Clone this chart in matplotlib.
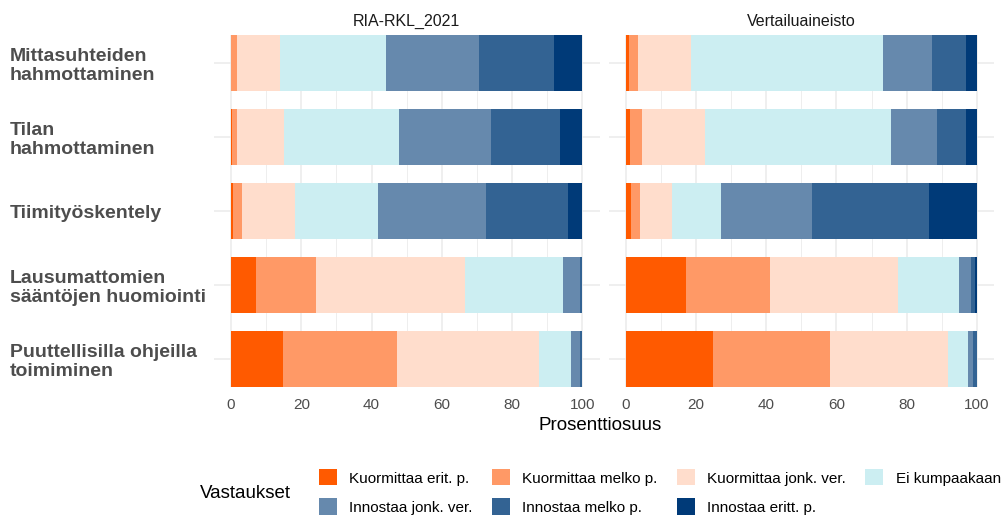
import numpy as np
import matplotlib.pyplot as plt
from matplotlib.patches import Patch

plt.rcParams['font.family'] = ['Liberation Sans', 'DejaVu Sans']

kysymykset = ['Mittasuhteiden\nhahmottaminen', 'Tilan\nhahmottaminen', 'Tiimityöskentely',
              'Lausumattomien\nsääntöjen huomiointi', 'Puuttellisilla ohjeilla\ntoimiminen']
vastaukset = ['Kuormittaa erit. p.', 'Kuormittaa melko p.', 'Kuormittaa jonk. ver.', 'Ei kumpaakaan',
              'Innostaa jonk. ver.', 'Innostaa melko p.', 'Innostaa eritt. p.']
varit = ['#FF5A00', '#FF9966', '#FFDDCC', '#CCEEF2', '#6689AD', '#336393', '#003A78']

ryhmat = ['RIA-RKL_2021', 'Vertailuaineisto']

# prosenttiosuudet, rivit = kysymykset, sarakkeet = vastaukset
ria = np.array([
    [0.0, 1.8, 12.2, 30.2, 26.5, 21.1, 8.2],
    [0.3, 1.5, 13.4, 32.7, 26.0, 19.6, 6.5],
    [0.5, 2.5, 15.2, 23.7, 30.6, 23.5, 4.0],
    [7.1, 17.1, 42.4, 28.0, 4.7, 0.7, 0.0],
    [14.7, 32.4, 40.7, 8.9, 2.5, 0.8, 0.0],
])
vertailu = np.array([
    [0.8, 2.5, 15.2, 54.9, 13.9, 9.5, 3.2],
    [1.2, 3.4, 18.0, 53.0, 13.0, 8.4, 3.0],
    [1.4, 2.7, 9.0, 14.1, 25.9, 33.3, 13.6],
    [17.1, 24.0, 36.5, 17.4, 3.3, 1.3, 0.4],
    [24.8, 33.4, 33.7, 5.6, 1.4, 1.1, 0.0],
])

W, H = 1005, 517
fig = plt.figure(figsize=(W / 100, H / 100), dpi=100)

bar_h = 0.75
y = np.arange(len(kysymykset))
paneelit = [(213.5, 599.9), (608.5, 994.3)]
top, bottom = 35.3, 386.8

for p, (data, nimi) in enumerate(zip([ria, vertailu], ryhmat)):
    x0, x1 = paneelit[p]
    ax = fig.add_axes([x0 / W, 1 - bottom / H, (x1 - x0) / W, (bottom - top) / H])
    left = np.zeros(len(kysymykset))
    for j in range(len(vastaukset)):
        ax.barh(y, data[:, j], left=left, height=bar_h, color=varit[j], edgecolor='none', zorder=2)
        left += data[:, j]
    ax.set_xlim(-5, 105)
    ax.set_ylim(len(kysymykset) - 1 + bar_h / 2, -bar_h / 2)
    ax.set_xticks([0, 20, 40, 60, 80, 100])
    ax.set_xticks([10, 30, 50, 70, 90], minor=True)
    ax.grid(True, which='major', color='#ebebeb', lw=1.1, zorder=0)
    ax.grid(True, which='minor', axis='x', color='#ebebeb', lw=0.6, zorder=0)
    ax.tick_params(axis='both', which='both', length=0)
    ax.tick_params(axis='x', labelsize=11, labelcolor='#4d4d4d', pad=8)
    for s in ax.spines.values():
        s.set_visible(False)
    ax.set_yticks(y)
    if p == 0:
        ax.set_yticklabels(kysymykset, fontsize=14, fontweight='bold', color='#4d4d4d',
                           ha='left', linespacing=1.18)
        ax.tick_params(axis='y', pad=(x0 - 10) * 0.72)
    else:
        ax.set_yticklabels([])
    ax.set_title(nimi, fontsize=11.5, color='#1a1a1a', pad=7)

fig.text(600 / W, 1 - 425 / H, 'Prosenttiosuus', fontsize=13.5, ha='center', va='center')

kahvat = [Patch(facecolor=c, edgecolor='none') for c in varit]
jarjestys = [0, 4, 1, 5, 2, 6, 3]
fig.legend([kahvat[i] for i in jarjestys], [vastaukset[i] for i in jarjestys],
           ncol=4, loc='center left', bbox_to_anchor=(311 / W, 1 - 492 / H),
           frameon=False, fontsize=11, handlelength=1.2, handleheight=1.25,
           columnspacing=1.25, handletextpad=0.8, labelspacing=0.85, borderpad=0)
fig.text(200 / W, 1 - 493 / H, 'Vastaukset', fontsize=13.5, ha='left', va='center')

fig.savefig('out.png', dpi=100, facecolor='white')
